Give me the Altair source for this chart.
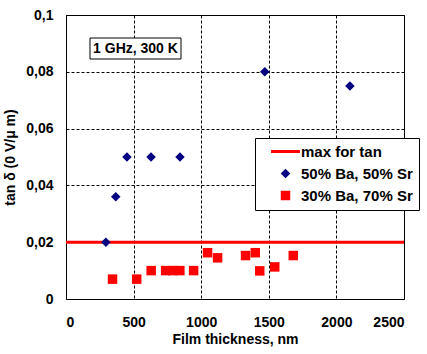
import altair as alt
import pandas as pd

# ---- data ----
ba50_x = [295, 368, 451, 629, 843, 1470, 2100]
ba50_y = [0.020, 0.036, 0.050, 0.050, 0.050, 0.080, 0.075]
ba30_x = [344, 523, 630, 737, 790, 842, 944, 1047, 1121, 1328, 1400, 1433, 1544, 1681]
ba30_y = [0.007, 0.007, 0.010, 0.010, 0.010, 0.010, 0.010, 0.0163, 0.0145, 0.0153, 0.0163, 0.0099, 0.0113, 0.0153]
max_tan = [0.02]
series_names = ["max for tan", "50% Ba, 50% Sr", "30% Ba, 70% Sr"]
series_colors = ["#ff0000", "#000080", "#ff0000"]
x_ticks = [0, 500, 1000, 1500, 2000, 2500]
y_ticks = [0, 0.02, 0.04, 0.06, 0.08, 0.1]
note = ["1 GHz, 300 K"]

pts = pd.DataFrame({
    "series": [series_names[1]] * len(ba50_x) + [series_names[2]] * len(ba30_x),
    "x": ba50_x + ba30_x,
    "y": ba50_y + ba30_y,
})
rule_df = pd.DataFrame({"y": max_tan})
note_df = pd.DataFrame({"label": note})

FONT = "Liberation Sans"
line_path = "M-3.05,-0.32H3.05V0.32H-3.05Z"

xscale = alt.Scale(domain=[0, 2500], nice=False)
yscale = alt.Scale(domain=[0, 0.1], nice=False)

xaxis = alt.Axis(values=x_ticks, title="Film thickness, nm", grid=True, ticks=False,
                 domain=False, labelPadding=16, titlePadding=3, format="d")
yaxis = alt.Axis(values=y_ticks, title="tan δ (0 V/μ m)", grid=True, ticks=False,
                 domain=False, labelPadding=13, titlePadding=8,
                 labelExpr="replace(format(datum.value, '~g'), '.', ',')")

legend = alt.Legend(orient="none", legendX=189, legendY=123, padding=6,
                    fillColor="white", strokeColor="black", title=None,
                    symbolSize=90, symbolOffset=17, labelOffset=8,
                    symbolStrokeWidth=0, rowPadding=6,
                    labelFont=FONT, labelFontSize=15, labelFontWeight="bold",
                    labelColor="black")

rule = alt.Chart(rule_df).mark_rule(color="#ff0000", strokeWidth=3).encode(
    y=alt.Y("y:Q", scale=yscale, axis=yaxis)
)

points = alt.Chart(pts).mark_point(filled=True, opacity=1, size=90).encode(
    x=alt.X("x:Q", scale=xscale, axis=xaxis),
    y=alt.Y("y:Q", scale=yscale, axis=yaxis),
    color=alt.Color("series:N", scale=alt.Scale(domain=series_names, range=series_colors), legend=legend),
    shape=alt.Shape("series:N", scale=alt.Scale(domain=series_names, range=[line_path, "diamond", "square"]), legend=legend),
)

box = alt.Chart(note_df).mark_rect(fill="white", stroke="black", strokeWidth=1).encode(
    x=alt.value(24), x2=alt.value(115), y=alt.value(23), y2=alt.value(44)
)
txt = alt.Chart(note_df).mark_text(font=FONT, fontSize=14, fontWeight="bold", color="black").encode(
    x=alt.value(69.5), y=alt.value(34), text="label:N"
)

chart = alt.layer(rule, points, box, txt).properties(
    width=338, height=284,
    autosize=alt.AutoSizeParams(type="none"),
    padding={"left": 66, "top": 15, "right": 23, "bottom": 55},
    background="white",
).configure_view(
    stroke="black", strokeWidth=1
).configure_axis(
    gridColor="black", gridDash=[3, 2], gridWidth=1, gridOpacity=1,
    labelFont=FONT, labelFontSize=14, labelFontWeight="bold", labelColor="black",
    titleFont=FONT, titleFontSize=14, titleFontWeight="bold", titleColor="black",
)

chart.save("out.html", embed_options={"renderer": "svg", "actions": False})
